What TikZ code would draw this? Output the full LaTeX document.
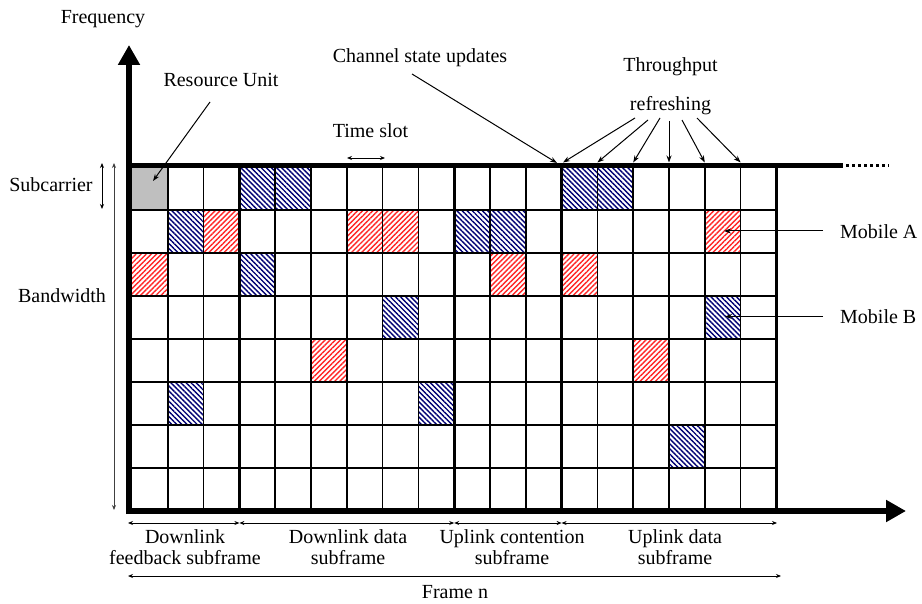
\documentclass[tikz,border=0pt]{standalone}
\usepackage{fontspec}
\setmainfont{Liberation Serif}
\usetikzlibrary{arrows.meta,patterns.meta}
\tikzset{
  lbl/.style={inner sep=0pt,anchor=base,font=\fontsize{20}{24}\selectfont},
  lblw/.style={lbl,anchor=base west},
  leader/.style={line width=1pt,-{Stealth[length=7pt,width=5pt]}},
  dimarr/.style={line width=0.9pt,{Stealth[length=5pt,width=4pt]}-{Stealth[length=5pt,width=4pt]}},
  thin grid/.style={line width=1.5pt},
  sep/.style={line width=3pt},
  axis/.style={line width=5.5pt,-{Triangle[length=20pt,width=21pt]}},
  redhatch/.style={pattern={Lines[angle=45,distance=3.6pt,line width=1.4pt]},pattern color=red!85},
  bluehatch/.style={pattern={Lines[angle=-45,distance=3.6pt,line width=1.4pt]},pattern color=blue!45!black},
}
\begin{document}
\begin{tikzpicture}[x=1pt,y=-1pt]
\useasboundingbox (0,0) rectangle (922,604);
\def\cellw{35.8}\def\cellh{43}
% cells
\fill[gray!50] (132,167) rectangle ++(\cellw,\cellh);
\foreach \c/\r in {3/0,4/0,12/0,13/0,1/1,9/1,10/1,3/2,7/3,16/3,1/5,8/5,15/6}
  \fill[bluehatch] ({132+\cellw*\c},{167+\cellh*\r}) rectangle ++(\cellw,\cellh);
\foreach \c/\r in {2/1,6/1,7/1,16/1,0/2,10/2,12/2,5/4,14/4}
  \fill[redhatch] ({132+\cellw*\c},{167+\cellh*\r}) rectangle ++(\cellw,\cellh);
% grid
\foreach \i in {1,2,4,5,6,7,8,10,11,13,14,15,16,17}
  \draw[thin grid] ({132+\cellw*\i},167) -- ({132+\cellw*\i},511);
\foreach \j in {1,...,7}
  \draw[thin grid] (132,{167+\cellh*\j}) -- (776.4,{167+\cellh*\j});
\foreach \i in {3,9,12,18}
  \draw[sep] ({132+\cellw*\i},166) -- ({132+\cellw*\i},511);
% top line
\draw[line width=5pt] (126,166) -- (843,166);
\draw[line width=3pt,dash pattern=on 3pt off 3pt] (846,166) -- (889,166);
% axes
\coordinate (o) at (129,514);
\coordinate (ytip) at (129,45);
\coordinate (o2) at (126.5,511);
\coordinate (xtip) at (906,511);
\draw[axis] (o) -- (ytip);
\draw[line width=6.5pt,-{Triangle[length=20pt,width=21pt]}] (o2) -- (xtip);
% labels
\node[lbl] (freq) at (103,23.5) {Frequency};
\node[lbl] (ru) at (221,87) {Resource Unit};
\node[lbl] (csu) at (420,63) {Channel state updates};
\node[lbl] (thr) at (670.5,72) {Throughput};
\node[lbl] (refr) at (670.5,111) {refreshing};
\node[lbl] (ts) at (370.5,138) {Time slot};
\node[lbl] (subc) at (51,192) {Subcarrier};
\node[lbl] (bw) at (62,303) {Bandwidth};
\node[lblw] (mobA) at (840,239) {Mobile A};
\node[lblw] (mobB) at (840,324) {Mobile B};
\node[lbl] (dfa) at (185,543) {Downlink};
\node[lbl] (dfb) at (185,564) {feedback subframe};
\node[lbl] (dda) at (348,543) {Downlink data};
\node[lbl] (ddb) at (348,564) {subframe};
\node[lbl] (uca) at (512,543) {Uplink contention};
\node[lbl] (ucb) at (512,564) {subframe};
\node[lbl] (uda) at (675,543) {Uplink data};
\node[lbl] (udb) at (675,564) {subframe};
\node[lbl] (frame) at (455,598) {Frame n};
% leaders
\coordinate (ru0) at (210,102); \coordinate (ru1) at (153,181);
\draw[leader] (ru0) -- (ru1);
\coordinate (cs0) at (412,74); \coordinate (cs1) at (557,163);
\draw[leader] (cs0) -- (cs1);
\foreach \sx/\sy/\tx [count=\k] in {635/118/563,648/120/597.4,660/118/633.2,669/121/669,682/120/704.8,697/118/740.6}{
  \coordinate (r\k a) at (\sx,\sy); \coordinate (r\k b) at (\tx,162.5);
  \draw[leader] (r\k a) -- (r\k b);
}
\coordinate (ma0) at (823,231); \coordinate (ma1) at (724,231);
\draw[leader] (ma0) -- (ma1);
\coordinate (mb0) at (823,316.5); \coordinate (mb1) at (725,316.5);
\draw[leader] (mb0) -- (mb1);
% dimension arrows
\coordinate (ts0) at (347,158); \coordinate (ts1) at (385,158);
\draw[dimarr] (ts0) -- (ts1);
\coordinate (sc0) at (102,163); \coordinate (sc1) at (102,209);
\draw[dimarr] (sc0) -- (sc1);
\coordinate (bw0) at (114,163); \coordinate (bw1) at (114,510);
\draw[dimarr,black!75] (bw0) -- (bw1);
\foreach \a/\b [count=\k] in {128/239.4,239.4/454.2,454.2/561.6,561.6/777}{
  \coordinate (s\k a) at (\a,523); \coordinate (s\k b) at (\b,523);
  \draw[dimarr] (s\k a) -- (s\k b);
}
\coordinate (fr0) at (128,576); \coordinate (fr1) at (781,576);
\draw[dimarr] (fr0) -- (fr1);
\end{tikzpicture}
\end{document}
